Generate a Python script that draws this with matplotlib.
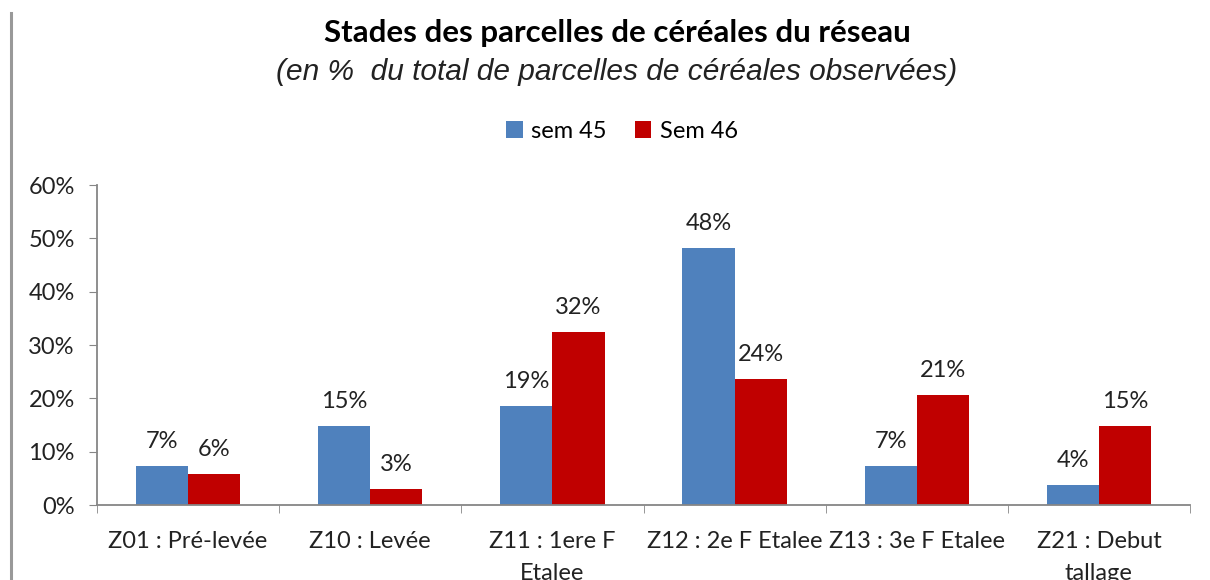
import matplotlib
matplotlib.use("Agg")
import matplotlib.pyplot as plt
from matplotlib.lines import Line2D
import numpy as np

categories = ["Z01 : Pré-levée", "Z10 : Levée", "Z11 : 1ere F\nEtalee",
              "Z12 : 2e F Etalee", "Z13 : 3e F Etalee", "Z21 : Debut\ntallage"]
series_names = ["sem 45", "Sem 46"]
sem45 = [7.3, 14.8, 18.6, 48.2, 7.3, 3.8]
sem46 = [5.8, 3.0, 32.4, 23.6, 20.6, 14.8]
yticks = [0, 10, 20, 30, 40, 50, 60]

blue = "#4F81BD"
red = "#C00000"
gray = "#868686"
font = "Lato"

fig = plt.figure(figsize=(12.1, 5.8), dpi=100)
ax = fig.add_axes([97/1210, 1-505/580, (1190-97)/1210, (505-185)/580])

x = np.arange(len(categories))
w = 0.286
b1 = ax.bar(x - w/2, sem45, w, color=blue, label=series_names[0])
b2 = ax.bar(x + w/2, sem46, w, color=red, label=series_names[1])

for bars, vals in ((b1, sem45), (b2, sem46)):
    for rect, v in zip(bars, vals):
        ax.annotate(f"{v:.0f}%", (rect.get_x() + rect.get_width()/2, v),
                    xytext=(0, 10), textcoords="offset points",
                    ha="center", va="bottom", fontsize=17, family=font, color="#222222")

ax.set_xlim(-0.5, len(categories) - 0.5)
ax.set_ylim(0, 60)
ax.set_yticks(yticks)
ax.set_yticklabels([f"{t}%" for t in yticks], fontsize=17, family=font, color="#222222")
ax.set_xticks(x)
ax.set_xticklabels(categories, fontsize=17, family=font, linespacing=1.6, color="#222222")
ax.set_xticks(np.arange(-0.5, len(categories)), minor=True)
ax.tick_params(axis="x", which="major", length=0, pad=19)
ax.tick_params(axis="x", which="minor", length=6, color=gray, direction="out")
ax.tick_params(axis="y", length=6, color=gray, direction="out", pad=10)
for s in ("top", "right"):
    ax.spines[s].set_visible(False)
for s in ("left", "bottom"):
    ax.spines[s].set_color(gray)
    ax.spines[s].set_linewidth(1.3)

fig.text(617/1210, 1-33/580, "Stades des parcelles de céréales du réseau", ha="center", va="center",
         fontsize=22.5, fontweight="bold", family=font)
fig.text(617/1210, 1-72/580, "(en %  du total de parcelles de céréales observées)", ha="center", va="center",
         fontsize=21.5, style="italic", family="Liberation Sans", color="#222222")

ax.legend(loc="center", bbox_to_anchor=(622/1210, 1-131/580), bbox_transform=fig.transFigure,
          ncol=2, frameon=False, prop={"family": font, "size": 17},
          handlelength=0.7, handleheight=0.7, handletextpad=0.35, columnspacing=1.2)

fig.add_artist(Line2D([11/1210, 11/1210], [0, 1-13/580], transform=fig.transFigure,
                      color="#999999", linewidth=2.2))

fig.savefig("out.png", dpi=100)
